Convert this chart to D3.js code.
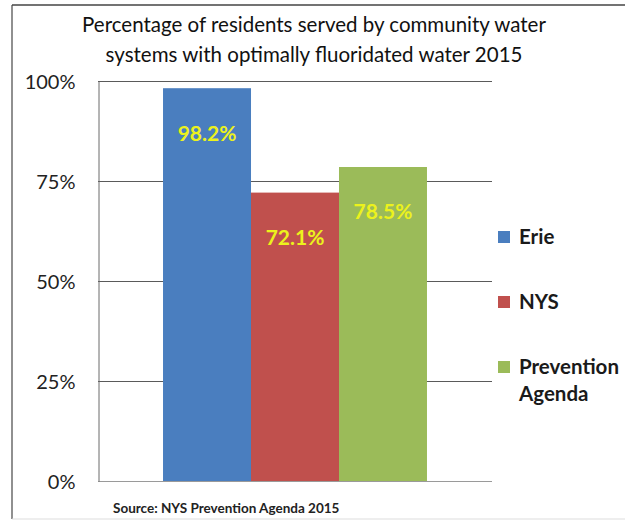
<!DOCTYPE html>
<html><head><meta charset="utf-8">
<script src="https://cdn.jsdelivr.net/npm/d3@7"></script>
<style>body{margin:0;background:#fff}svg{display:block}</style>
</head><body>
<svg id="c" width="625" height="523"></svg>
<script>
const titleLines = ["Percentage of residents served by community water", "systems with optimally fluoridated water 2015"];
const categories = ["Erie", "NYS", "Prevention Agenda"];
const values = [98.2, 72.1, 78.5];
const colors = ["#4a7ebf", "#c0504d", "#9bbb59"];
const yTicks = [0, 25, 50, 75, 100];
const legendLines = [["Erie"], ["NYS"], ["Prevention", "Agenda"]];
const sourceText = "Source: NYS Prevention Agenda 2015";

const svg = d3.select("#c");
const font = "Lato, 'Open Sans', sans-serif";

// frame
svg.append("line").attr("x1",12).attr("x2",12).attr("y1",5).attr("y2",519).attr("stroke","#6b6b6b").attr("stroke-width",1.5);
svg.append("line").attr("x1",12).attr("x2",625).attr("y1",5).attr("y2",5).attr("stroke","#444").attr("stroke-width",1.5);
svg.append("line").attr("x1",12).attr("x2",625).attr("y1",519).attr("y2",519).attr("stroke","#ddd").attr("stroke-width",1);

const x = d3.scaleBand().domain(categories).range([98, 492]).paddingInner(0).paddingOuter(0.739);
const y = d3.scaleLinear().domain([0, 100]).range([481, 81]);

// gridlines
svg.append("g").selectAll("line").data(yTicks).join("line")
  .attr("x1", 98).attr("x2", 492)
  .attr("y1", d => Math.round(y(d)) + 0.5).attr("y2", d => Math.round(y(d)) + 0.5)
  .attr("stroke", d => d === 0 ? "#9a9a9a" : "#5a5a5a").attr("stroke-width", 1);

// y axis
const yAxis = d3.axisLeft(y).tickValues(yTicks).tickFormat(d => d + "%").tickSize(0).tickPadding(23);
const ga = svg.append("g").attr("transform", "translate(98.5,0)").call(yAxis);
ga.select(".domain").attr("stroke", "#6a6a6a");
ga.selectAll("text").attr("font-family", font).attr("font-size", 20).attr("fill", "#222").attr("dy", "0.35em");

// bars
svg.append("g").selectAll("rect").data(categories).join("rect")
  .attr("x", d => x(d)).attr("width", x.bandwidth())
  .attr("y", (d, i) => y(values[i])).attr("height", (d, i) => y(0) - y(values[i]))
  .attr("fill", (d, i) => colors[i]);

// labels
svg.append("g").selectAll("text").data(categories).join("text")
  .attr("x", d => x(d) + x.bandwidth() / 2)
  .attr("y", (d, i) => y(values[i]) + 45)
  .attr("dy", "0.35em")
  .attr("text-anchor", "middle")
  .attr("font-family", font).attr("font-weight", "bold").attr("font-size", 21)
  .attr("fill", "#ecf21c")
  .text((d, i) => values[i].toFixed(1) + "%");

// title
svg.append("g").selectAll("text").data(titleLines).join("text")
  .attr("x", 314).attr("y", (d, i) => 32 + i * 30)
  .attr("text-anchor", "middle")
  .attr("font-family", font).attr("font-size", 20.5).attr("fill", "#111")
  .text(d => d);

// legend
const lg = svg.append("g");
const legY = [237, 302, 367];
categories.forEach((c, i) => {
  lg.append("rect").attr("x", 498).attr("y", legY[i] - 6).attr("width", 12).attr("height", 12).attr("fill", colors[i]);
  legendLines[i].forEach((t, j) => {
    lg.append("text").attr("x", 519).attr("y", legY[i] + j * 27).attr("dy", "0.35em")
      .attr("font-family", font).attr("font-weight", "bold").attr("font-size", 20.5).attr("fill", "#1a1a1a").text(t);
  });
});

// source
svg.append("text").attr("x", 113).attr("y", 513)
  .attr("font-family", font).attr("font-weight", "bold").attr("font-size", 13.5).attr("fill", "#222")
  .text(sourceText);
</script>
</body></html>
